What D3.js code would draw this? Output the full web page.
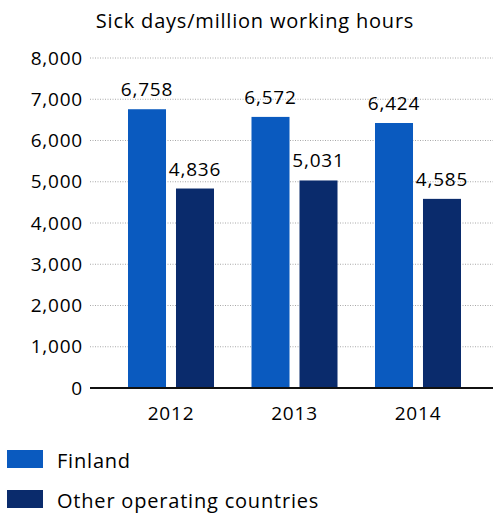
<!DOCTYPE html>
<html>
<head>
<meta charset="utf-8">
<script src="https://cdn.jsdelivr.net/npm/d3@7"></script>
<style>
  html, body { margin: 0; padding: 0; background: #fff; }
  svg { display: block; font-family: "Open Sans", "Noto Sans", sans-serif; }
  svg text { letter-spacing: 0.8px; font-weight: 500; fill: #000; }
</style>
</head>
<body>
<svg id="chart" width="493" height="514"></svg>
<script>
const years = ["2012", "2013", "2014"];
const seriesNames = ["Finland", "Other operating countries"];
const finland = [6758, 6572, 6424];
const otherCountries = [4836, 5031, 4585];
const yTicks = [0, 1000, 2000, 3000, 4000, 5000, 6000, 7000, 8000];
const colors = ["#0a5abf", "#0a2b6c"];

const svg = d3.select("#chart");
const width = 493;

const y = d3.scaleLinear().domain([0, 8000]).range([388, 58]);
const x = d3.scaleBand().domain(years).range([128, 461]).paddingInner(0.3036).paddingOuter(0);
const xs = d3.scaleBand().domain(seriesNames).range([0, x.bandwidth()]).paddingInner(0.208).paddingOuter(0);

const fmt = d3.format(",");

// dotted gridlines
svg.append("g")
  .selectAll("line")
  .data(yTicks.filter(d => d > 0))
  .join("line")
  .attr("x1", 90).attr("x2", width)
  .attr("y1", d => y(d)).attr("y2", d => y(d))
  .attr("stroke", "#a8a8a8")
  .attr("stroke-width", 1)
  .attr("stroke-dasharray", "1,1.5");

// y axis labels
const yAxis = d3.axisLeft(y).tickValues(yTicks).tickFormat(fmt).tickSize(0).tickPadding(0);
const ya = svg.append("g").attr("transform", "translate(83,0)").call(yAxis);
ya.select(".domain").remove();
ya.selectAll("text")
  .attr("font-size", 19)
  .attr("font-family", "\"Open Sans\", sans-serif");

const rows = years.map((yr, i) => ({ year: yr, values: [finland[i], otherCountries[i]] }));

// bars
const groups = svg.append("g").selectAll("g")
  .data(rows).join("g")
  .attr("transform", d => `translate(${x(d.year)},0)`);

groups.selectAll("rect")
  .data(d => d.values.map((v, j) => ({ name: seriesNames[j], v, j })))
  .join("rect")
  .attr("x", d => xs(d.name))
  .attr("width", xs.bandwidth())
  .attr("y", d => y(d.v))
  .attr("height", d => y(0) - y(d.v))
  .attr("fill", d => colors[d.j]);

// value labels
groups.selectAll("text.val")
  .data(d => d.values.map((v, j) => ({ name: seriesNames[j], v, j })))
  .join("text")
  .attr("class", "val")
  .attr("x", d => xs(d.name) + xs.bandwidth() / 2)
  .attr("y", d => y(d.v) - 13)
  .attr("text-anchor", "middle")
  .attr("font-size", 19)
  .text(d => fmt(d.v));

// baseline
svg.append("line")
  .attr("x1", 90).attr("x2", width)
  .attr("y1", y(0)).attr("y2", y(0))
  .attr("stroke", "#111").attr("stroke-width", 2);

// x axis labels
const xAxis = d3.axisBottom(x).tickSize(0).tickPadding(0);
const xa = svg.append("g").attr("transform", `translate(0,${y(0) + 18})`).call(xAxis);
xa.select(".domain").remove();
xa.selectAll("text")
  .attr("font-size", 19)
  .attr("font-family", "\"Open Sans\", sans-serif");

// title
svg.append("text")
  .attr("x", 255).attr("y", 28)
  .attr("text-anchor", "middle")
  .attr("font-size", 20)
  .text("Sick days/million working hours");

// legend
const legend = svg.append("g").selectAll("g")
  .data(seriesNames).join("g")
  .attr("transform", (d, i) => `translate(7,${450 + i * 40})`);
legend.append("rect")
  .attr("width", 36).attr("height", 18)
  .attr("fill", (d, i) => colors[i]);
legend.append("text")
  .attr("x", 50).attr("y", 18)
  .attr("font-size", 20)
  .text(d => d);
</script>
</body>
</html>
